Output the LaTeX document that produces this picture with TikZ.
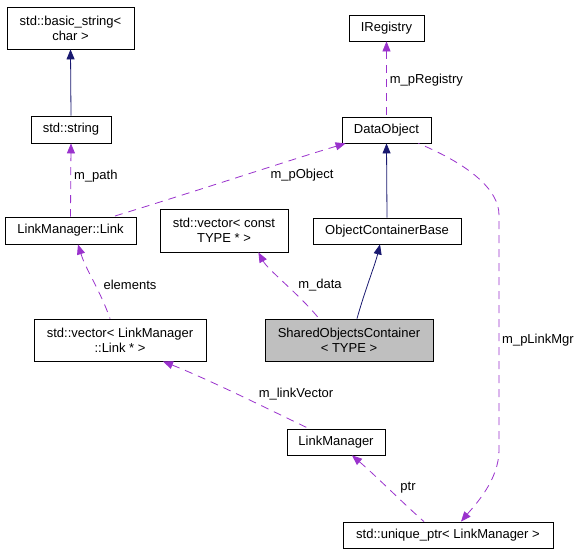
\documentclass[tikz,border=0pt]{standalone}
\usepackage{fontspec}
\setmainfont{Liberation Sans}
\usetikzlibrary{arrows.meta}
\definecolor{navyc}{HTML}{191970}
\definecolor{purp}{HTML}{9A32CD}
\definecolor{grayf}{HTML}{BFBFBF}
\begin{document}
\begin{tikzpicture}[x=1pt,y=-1pt,
  box/.style={draw=black,line width=0.8pt,fill=white,inner sep=0pt,align=center,font=\fontsize{13}{15}\selectfont},
  lbl/.style={inner sep=0pt,font=\fontsize{13}{15}\selectfont},
  inh/.style={draw=navyc,line width=0.8pt,{Triangle[length=10pt,width=8pt]}-},
  use/.style={draw=purp,line width=0.8pt,dashed,dash pattern=on 8pt off 6pt,{Triangle[length=10pt,width=8pt]}-}]
\useasboundingbox[fill=white] (0,0) rectangle (583,555);
\node[box,minimum width=127,minimum height=42] (bs) at (70.5,28) {std::basic\_string<\\char >};
\node[box,minimum width=80,minimum height=27] (str) at (71,129.5) {std::string};
\node[box,minimum width=131,minimum height=27] (link) at (70.5,230.5) {LinkManager::Link};
\node[box,minimum width=128,minimum height=43] (vct) at (224,230.5) {std::vector< const\\TYPE * >};
\node[box,minimum width=75,minimum height=26] (ireg) at (386.5,28) {IRegistry};
\node[box,minimum width=89,minimum height=26] (dobj) at (386.5,130) {DataObject};
\node[box,minimum width=148,minimum height=26] (ocb) at (387,231) {ObjectContainerBase};
\node[box,minimum width=172,minimum height=42] (vlink) at (120,340) {std::vector< LinkManager\\::Link * >};
\node[box,minimum width=168,minimum height=42,fill=grayf] (soc) at (349,340) {SharedObjectsContainer\\< TYPE >};
\node[box,minimum width=98,minimum height=26] (lm) at (336,442) {LinkManager};
\node[box,minimum width=210,minimum height=26] (up) at (448,535) {std::unique\_ptr< LinkManager >};

% inheritance
\draw[inh] (bs.south) -- (str.north);
\draw[inh] (dobj.south) -- (ocb.north);
\draw[inh] ([xshift=-7pt]ocb.south) .. controls (375,265) and (365,290) .. ([xshift=8pt]soc.north);

% usage
\draw[use] (str.south) -- (link.north) node[lbl,pos=0.45,anchor=west,xshift=3pt] {m\_path};
\draw[use] ([xshift=4pt]dobj.south west) .. controls (290,160) and (200,190) .. ([xshift=42.5pt]link.north);
\node[lbl] (lpo) at (302,175) {m\_pObject};
\draw[use] (ireg.south) -- (dobj.north) node[lbl,pos=0.52,anchor=west,xshift=3pt] {m\_pRegistry};
\draw[use] ([xshift=-30pt]vct.south east) .. controls (268,270) and (300,295) .. ([xshift=-30pt]soc.north);
\node[lbl] (lmd) at (320,285) {m\_data};
\draw[use] ([xshift=7.5pt]link.south) .. controls (86,270) and (100,290) .. ([xshift=-10pt]vlink.north);
\node[lbl] (lel) at (130,285) {elements};
\draw[use] ([xshift=43pt]vlink.south) .. controls (210,380) and (270,410) .. ([xshift=-27pt]lm.north);
\node[lbl] (llv) at (296,394) {m\_linkVector};
\draw[use] ([xshift=16pt]lm.south) .. controls (375,475) and (405,505) .. ([xshift=-24pt]up.north);
\node[lbl] (lptr) at (408,488) {ptr};
\draw[use] ([xshift=13pt]up.north) .. controls (475,505) and (499,480) .. (499,450) -- (499,215) .. controls (499,190) and (470,165) .. ([xshift=-13pt]dobj.south east);
\node[lbl,anchor=west] (llm) at (502,340) {m\_pLinkMgr};
\end{tikzpicture}
\end{document}
